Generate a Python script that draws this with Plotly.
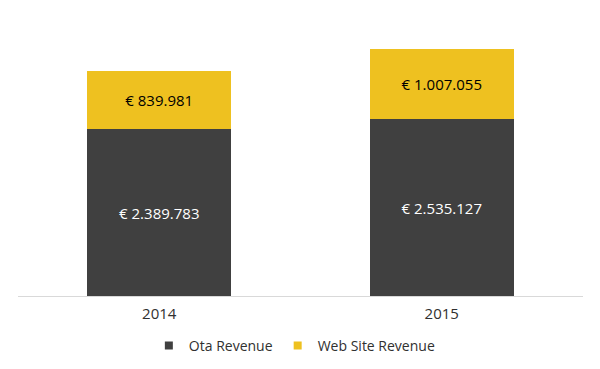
import plotly.graph_objects as go

years = ["2014", "2015"]
ota_revenue = [2389783, 2535127]
web_revenue = [839981, 1007055]
series_names = ["Ota Revenue", "Web Site Revenue"]
colors = ["#404040", "#EEC120"]

def eur(v):
    return "€ " + f"{v:,}".replace(",", ".")

fig = go.Figure()
fig.add_trace(go.Bar(
    x=years, y=ota_revenue, name=series_names[0], showlegend=False,
    marker=dict(color=colors[0], line=dict(width=0)),
    text=[eur(v) for v in ota_revenue], textposition="inside",
    insidetextanchor="middle", textangle=0,
    textfont=dict(color="#ffffff", size=15, family="Open Sans"),
    hoverinfo="skip",
))
fig.add_trace(go.Bar(
    x=years, y=web_revenue, name=series_names[1], showlegend=False,
    marker=dict(color=colors[1], line=dict(width=0)),
    text=[eur(v) for v in web_revenue], textposition="inside",
    insidetextanchor="middle", textangle=0,
    textfont=dict(color="#000000", size=15, family="Open Sans"),
    hoverinfo="skip",
))
# legend entries with small square markers
for nm, c in zip(series_names, colors):
    fig.add_trace(go.Scatter(x=[None], y=[None], mode="markers", name=nm,
                             marker=dict(symbol="square", size=8, color=c),
                             hoverinfo="skip"))

fig.update_layout(
    barmode="stack",
    bargap=0.49,
    width=600, height=369,
    margin=dict(l=10, r=25, t=9, b=81),
    paper_bgcolor="white", plot_bgcolor="white",
    font=dict(family="Open Sans", color="#404040", size=14),
    showlegend=True,
    legend=dict(orientation="h", x=0.49, xanchor="center", y=-0.179, yanchor="middle",
                font=dict(size=14, color="#303030"), itemwidth=30, traceorder="normal",
                itemclick=False, itemdoubleclick=False),
    xaxis=dict(showline=True, linecolor="#d9d9d9", linewidth=1,
               ticks="outside", ticklen=4, tickcolor="rgba(0,0,0,0)",
               tickfont=dict(size=15, color="#303030"), showgrid=False, fixedrange=True),
    yaxis=dict(range=[0, 4000000], showgrid=False, showticklabels=False,
               zeroline=False, showline=False, fixedrange=True),
)

fig.write_html("out.html", config={"displayModeBar": False})
